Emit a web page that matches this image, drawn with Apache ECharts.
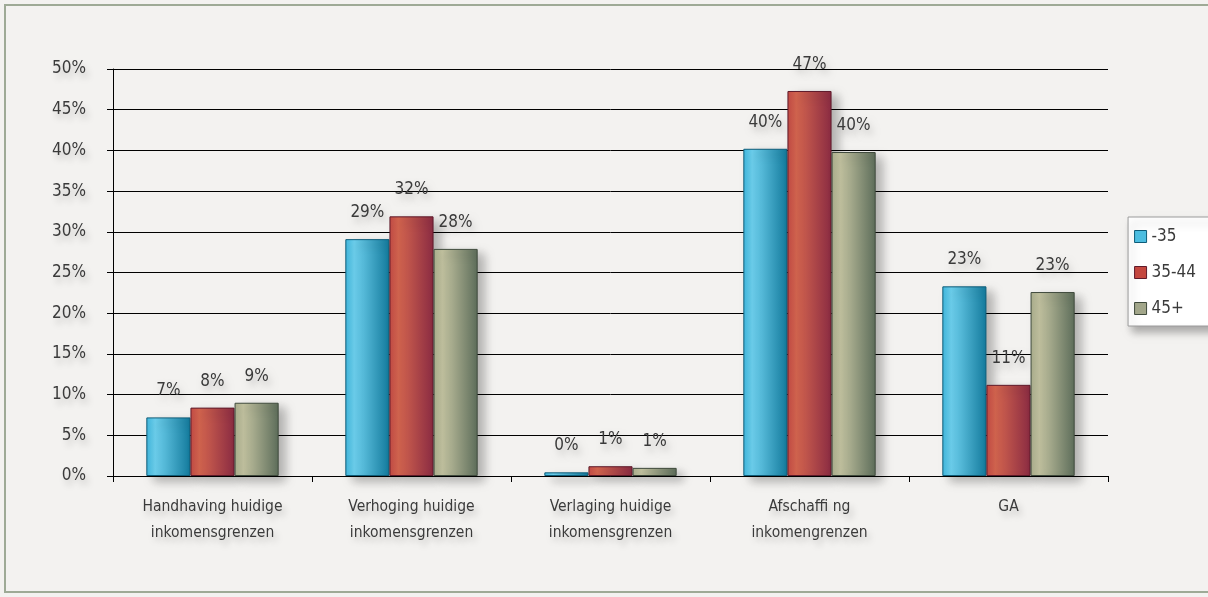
<!DOCTYPE html>
<html>
<head>
<meta charset="utf-8">
<script src="https://cdn.jsdelivr.net/npm/echarts@6/dist/echarts.min.js"></script>
<style>
  html, body { margin: 0; padding: 0; background: #f3f2f0; }
  #wrap { position: relative; width: 1208px; height: 597px; overflow: hidden; background: #f3f2f0; }
  #frame { position: absolute; left: 4px; top: 4px; width: 1220px; height: 589px; border: 2px solid #9eaa96; box-sizing: border-box; }
  #chart { position: absolute; left: 0; top: 0; width: 1208px; height: 597px; }
</style>
</head>
<body>
<div id="wrap">
  <div id="frame"></div>
  <div id="chart"></div>
</div>
<script>
// Survey answers by age group (percent)
const categories = [
  'Handhaving huidige\ninkomensgrenzen',
  'Verhoging huidige\ninkomensgrenzen',
  'Verlaging huidige\ninkomensgrenzen',
  'Afschaffi ng\ninkomengrenzen',
  'GA'
];
const seriesNames = ['-35', '35-44', '45+'];
const under35 = [7.2, 29.1, 0.45, 40.2, 23.3];
const age35to44 = [8.4, 31.9, 1.2, 47.3, 11.2];
const over45 = [9.0, 27.9, 1.0, 39.8, 22.6];
const yTicks = { min: 0, max: 50, interval: 5 };

const FONT = '"DejaVu Sans Condensed", "Liberation Sans Narrow", sans-serif';
const TEXT = '#3a3a3a';
const textShadow = {
  textShadowColor: 'rgba(0,0,0,0.22)',
  textShadowBlur: 7,
  textShadowOffsetX: 3,
  textShadowOffsetY: 5
};

function cylinder(mid, light, dark) {
  return new echarts.graphic.LinearGradient(0, 0, 1, 0, [
    { offset: 0, color: mid },
    { offset: 0.2, color: light },
    { offset: 1, color: dark }
  ]);
}

const styles = [
  { fill: cylinder('#3fb6dc', '#6dd0ee', '#137a9c'), border: '#0e5c78', legend: '#4cbde0' },
  { fill: cylinder('#c24a45', '#d4654f', '#8a2b42'), border: '#5e1a2a', legend: '#c4473f' },
  { fill: cylinder('#a9ad8c', '#c2c2a0', '#5d6d5a'), border: '#3f4a3c', legend: '#a2a68a' }
];
const values = [under35, age35to44, over45];

const chart = echarts.init(document.getElementById('chart'), null, { renderer: 'canvas' });

chart.setOption({
  backgroundColor: 'transparent',
  animation: false,
  textStyle: { fontFamily: FONT },
  grid: { left: 113, right: 100, top: 69, bottom: 121, containLabel: false },
  legend: {
    orient: 'vertical',
    right: -12,
    top: 217,
    width: 80,
    padding: [11, 24, 9, 6],
    itemGap: 19,
    itemWidth: 12,
    itemHeight: 12,
    backgroundColor: '#ffffff',
    borderColor: '#9a9a9a',
    borderWidth: 1,
    shadowColor: 'rgba(0,0,0,0.3)',
    shadowBlur: 8,
    shadowOffsetX: 4,
    shadowOffsetY: 6,
    textStyle: { fontSize: 17, color: TEXT, fontFamily: FONT },
    data: seriesNames.map((n, i) => ({
      name: n,
      icon: 'rect',
      itemStyle: { color: styles[i].legend, borderColor: styles[i].border, borderWidth: 1 }
    }))
  },
  xAxis: {
    type: 'category',
    data: categories,
    axisLine: { lineStyle: { color: '#000', width: 1 } },
    axisTick: { show: true, length: 6, lineStyle: { color: '#000' } },
    axisLabel: {
      color: TEXT,
      fontSize: 15.5,
      lineHeight: 26,
      margin: 18,
      fontFamily: FONT,
      interval: 0,
      ...textShadow
    }
  },
  yAxis: {
    type: 'value',
    min: yTicks.min,
    max: yTicks.max,
    interval: yTicks.interval,
    axisLine: { show: true, lineStyle: { color: '#000', width: 1 } },
    axisTick: { show: true, length: 6, lineStyle: { color: '#000' } },
    splitLine: { lineStyle: { color: '#000', width: 1 } },
    axisLabel: {
      formatter: '{value}%',
      color: TEXT,
      fontSize: 17,
      margin: 27,
      fontFamily: FONT,
      ...textShadow
    }
  },
  series: seriesNames.map((name, i) => ({
    name,
    type: 'bar',
    data: values[i],
    barGap: '0%',
    barCategoryGap: '33.5%',
    itemStyle: {
      color: styles[i].fill,
      borderColor: styles[i].border,
      borderWidth: 1,
      shadowColor: 'rgba(0,0,0,0.28)',
      shadowBlur: 10,
      shadowOffsetX: 7,
      shadowOffsetY: 5
    },
    label: {
      show: true,
      position: 'top',
      distance: 18,
      color: TEXT,
      fontSize: 17,
      fontFamily: FONT,
      formatter: p => Math.round(p.value) + '%',
      ...textShadow
    }
  }))
});
</script>
</body>
</html>
